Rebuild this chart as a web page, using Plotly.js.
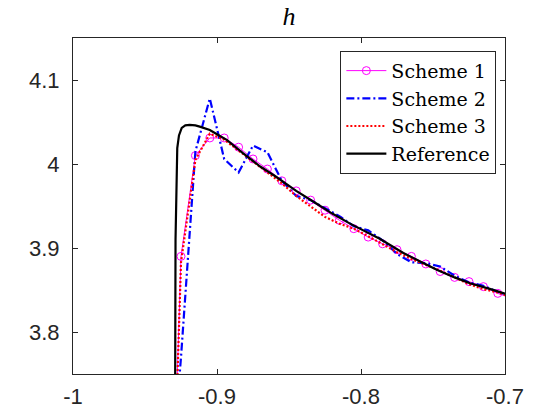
<!DOCTYPE html>
<html>
<head>
<meta charset="utf-8">
<script src="https://cdn.plot.ly/plotly-3.0.1.min.js"></script>
<style>
  html, body { margin: 0; padding: 0; background: #ffffff; }
  #chart { width: 560px; height: 420px; }
</style>
</head>
<body>
<div id="chart"></div>
<script>
// Cell-centred grid shared by the three schemes (dx = 0.01)
const gridX = [-0.935, -0.925, -0.915, -0.905, -0.895, -0.885, -0.875, -0.865, -0.855,
               -0.845, -0.835, -0.825, -0.815, -0.805, -0.795, -0.785, -0.775, -0.765,
               -0.755, -0.745, -0.735, -0.725, -0.715, -0.705, -0.695];

const scheme1H = [3.34, 3.890, 4.010, 4.031, 4.031, 4.020, 4.006, 3.994, 3.980,
                  3.968, 3.957, 3.945, 3.933, 3.923, 3.913, 3.905, 3.898, 3.890,
                  3.881, 3.872, 3.865, 3.860, 3.854, 3.846, 3.840];

const scheme2H = [3.55, 3.770, 4.015, 4.078, 4.006, 3.990, 4.022, 4.014, 3.980,
                  3.962, 3.957, 3.948, 3.938, 3.926, 3.921, 3.909, 3.893, 3.883,
                  3.882, 3.878, 3.867, 3.859, 3.855, 3.848, 3.842];

const scheme3H = [3.33, 3.883, 4.005, 4.036, 4.029, 4.016, 4.003, 3.990, 3.977,
                  3.962, 3.950, 3.937, 3.929, 3.923, 3.914, 3.904, 3.895, 3.887,
                  3.880, 3.873, 3.865, 3.857, 3.851, 3.847, 3.841];

// Fine-grid reference solution
const refX = [-0.9297, -0.9288, -0.9276, -0.9264, -0.9245, -0.9220, -0.9190, -0.9150,
              -0.9120, -0.9050, -0.9000, -0.8930, -0.8820, -0.8700, -0.8600, -0.8540,
              -0.8450, -0.8310, -0.8200, -0.8076, -0.7950, -0.7870, -0.7706, -0.7600,
              -0.7474, -0.7350, -0.7243, -0.7100, -0.7000];
const refH = [3.30, 3.910, 4.019, 4.034, 4.043, 4.046, 4.0465, 4.046,
              4.0445, 4.0405, 4.0355, 4.0285, 4.013, 3.997, 3.986, 3.979,
              3.968, 3.953, 3.941, 3.929, 3.918, 3.911, 3.894, 3.885,
              3.874, 3.865, 3.858, 3.851, 3.8455];

const xTicks = [-1, -0.9, -0.8, -0.7];
const xTickText = ['-1', '-0.9', '-0.8', '-0.7'];
const yTicks = [3.8, 3.9, 4.0, 4.1];
const yTickText = ['3.8', '3.9', '4', '4.1'];

const axisColor = '#262626';
const tickFont = { family: 'Liberation Sans, Arial, sans-serif', size: 22, color: axisColor };
const titleSerif = '"Liberation Serif", "Times New Roman", serif';
const legendSerif = '"DejaVu Serif", "Liberation Serif", serif';

const traces = [
  {
    x: gridX, y: scheme1H, name: 'Scheme 1', mode: 'lines+markers',
    line: { color: '#ff00ff', width: 1 },
    marker: { symbol: 'circle-open', size: 8, color: '#ff00ff', line: { width: 1 } }
  },
  {
    x: gridX, y: scheme2H, name: 'Scheme 2', mode: 'lines',
    line: { color: '#0000ff', width: 2.2, dash: '8px,3px,2px,3px' }
  },
  {
    x: gridX, y: scheme3H, name: 'Scheme 3', mode: 'lines',
    line: { color: '#ff0000', width: 2.2, dash: '2px,2px' }
  },
  {
    x: refX, y: refH, name: 'Reference', mode: 'lines',
    line: { color: '#000000', width: 2.2 }
  }
];

const layout = {
  width: 560, height: 420,
  margin: { l: 73, r: 55, t: 38, b: 46, pad: 0 },
  paper_bgcolor: '#ffffff', plot_bgcolor: '#ffffff',
  showlegend: true,
  title: {
    text: '<i>h</i>',
    font: { family: titleSerif, size: 26, color: '#000000' },
    x: 0.5, xref: 'paper', xanchor: 'center',
    y: 0.962, yref: 'container', yanchor: 'middle'
  },
  xaxis: {
    range: [-1, -0.7], tickvals: xTicks, ticktext: xTickText,
    ticks: 'inside', ticklen: 5, tickwidth: 1, tickcolor: axisColor,
    showline: true, linecolor: axisColor, linewidth: 1, mirror: 'allticks',
    showgrid: false, zeroline: false, tickfont: tickFont, ticklabelstandoff: 3
  },
  yaxis: {
    range: [3.75, 4.15], tickvals: yTicks, ticktext: yTickText,
    ticks: 'inside', ticklen: 5, tickwidth: 1, tickcolor: axisColor,
    showline: true, linecolor: axisColor, linewidth: 1, mirror: 'allticks',
    showgrid: false, zeroline: false, tickfont: tickFont, ticklabelstandoff: 8
  },
  legend: {
    x: 0.98, xanchor: 'right', y: 0.962, yanchor: 'top',
    bgcolor: '#ffffff', bordercolor: '#262626', borderwidth: 1,
    font: { family: legendSerif, size: 19, color: '#000000' },
    itemwidth: 40, tracegroupgap: 0
  }
};

Plotly.newPlot('chart', traces, layout, { staticPlot: true, displayModeBar: false });
</script>
</body>
</html>
